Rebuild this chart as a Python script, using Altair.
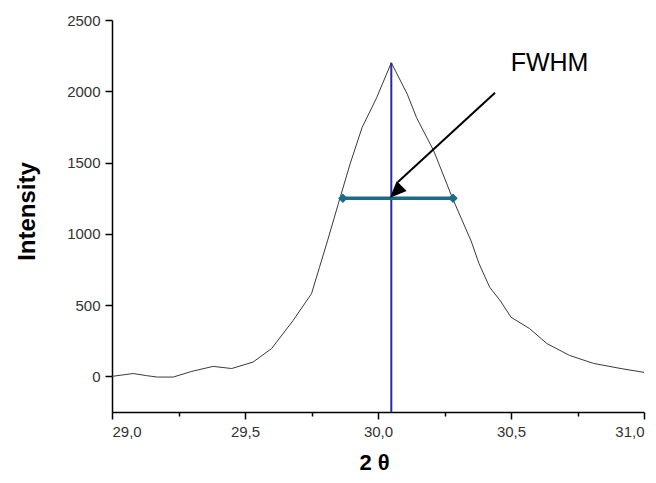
import altair as alt
import pandas as pd

two_theta = [29.0, 29.08, 29.13, 29.17, 29.23, 29.3, 29.38, 29.45, 29.53, 29.6, 29.68,
             29.75, 29.78, 29.81, 29.857, 29.895, 29.94, 29.995, 30.05, 30.11,
             30.145, 30.21, 30.28, 30.35, 30.38, 30.42, 30.46, 30.5, 30.57,
             30.635, 30.72, 30.81, 30.91, 31.0]
intensity = [0, 20, 5, -5, -5, 35, 70, 55, 100, 195, 390,
             580, 765, 950, 1250, 1490, 1745, 1955, 2200, 1980,
             1815, 1580, 1250, 950, 790, 625, 530, 415, 335,
             230, 147, 91, 56, 28]

peak_x = 30.05
peak_y = 2200
fwhm_x = [29.868, 30.282]
fwhm_y = 1250
arrow_start = (30.44, 1990)
arrow_end = (30.045, 1253)
label_pos = (30.645, 2200)
label_text = "FWHM"

x_ticks = [29.0, 29.25, 29.5, 29.75, 30.0, 30.25, 30.5, 30.75, 31.0]
y_ticks = [0, 250, 500, 750, 1000, 1250, 1500, 1750, 2000, 2250, 2500]

xs = alt.Scale(domain=[29.0, 31.0], nice=False, zero=False)
ys = alt.Scale(domain=[-250, 2500], nice=False, zero=False)

curve_df = pd.DataFrame({"x": two_theta, "y": intensity})

xaxis = alt.Axis(
    values=x_ticks, title="2 θ",
    labelExpr="datum.value % 0.5 === 0 ? replace(format(datum.value, '.1f'), '.', ',') : ''",
    tickSize={"condition": {"test": "datum.value % 0.5 === 0", "value": 7}, "value": 4},
    titleX=262, titleY=50, titleAlign="center", titleBaseline="middle",
    titleFontSize=22, titleFontWeight="bold", labelPadding=5,
    grid=False,
)
yaxis = alt.Axis(
    values=y_ticks, title="Intensity",
    labelExpr="datum.value % 500 === 0 ? format(datum.value, 'd') : ''",
    tickSize={"condition": {"test": "datum.value % 500 === 0", "value": 7}, "value": 4},
    titleX=-85, titleY=191, titleAngle=-90, titleAlign="center", titleBaseline="middle",
    titleFontSize=24, titleFontWeight="bold", labelPadding=5,
    grid=False,
)

curve = alt.Chart(curve_df).mark_line(color="#3a3a3a", strokeWidth=1).encode(
    x=alt.X("x:Q", scale=xs, axis=xaxis),
    y=alt.Y("y:Q", scale=ys, axis=yaxis),
)

vline = alt.Chart(pd.DataFrame({"x": [peak_x], "y": [-250], "y2": [peak_y]})).mark_rule(
    color="#2a2aa8", strokeWidth=2
).encode(x="x:Q", y="y:Q", y2="y2:Q")

fwhm_df = pd.DataFrame({"x": fwhm_x, "y": [fwhm_y, fwhm_y]})
fwhm_line = alt.Chart(fwhm_df).mark_line(color="#1b6c84", strokeWidth=3.5).encode(
    x="x:Q", y="y:Q"
)
fwhm_pts = alt.Chart(fwhm_df).mark_point(
    shape="diamond", filled=True, color="#1b6c84", size=90, opacity=1
).encode(x="x:Q", y="y:Q")

arrow_df = pd.DataFrame({
    "x": [arrow_start[0]], "y": [arrow_start[1]],
    "x2": [arrow_end[0] + 0.03], "y2": [arrow_end[1] + 110],
})
arrow_line = alt.Chart(arrow_df).mark_rule(color="black", strokeWidth=2).encode(
    x="x:Q", y="y:Q", x2="x2:Q", y2="y2:Q"
)
head = alt.Chart(pd.DataFrame({"x": [arrow_end[0]], "y": [arrow_end[1]]})).mark_point(
    shape="M0,0 L-0.42,-1 L0.42,-1 Z", filled=True, color="black", size=1100,
    angle=45, opacity=1
).encode(x="x:Q", y="y:Q")

label = alt.Chart(pd.DataFrame({"x": [label_pos[0]], "y": [label_pos[1]], "t": [label_text]})).mark_text(
    font="Liberation Sans", fontSize=25, color="black", align="center", baseline="middle"
).encode(x="x:Q", y="y:Q", text="t:N")

chart = alt.layer(curve, vline, fwhm_line, fwhm_pts, arrow_line, head, label).properties(
    width=532, height=392,
    background="white",
    autosize=alt.AutoSizeParams(type="none"),
    padding={"left": 104, "top": 12, "right": 4, "bottom": 63},
).configure_view(stroke=None).configure_axis(
    labelFont="Liberation Sans", labelFontSize=15, labelColor="#333333",
    titleFont="Liberation Sans", titleColor="black",
    domainColor="black", domainWidth=1.5, tickColor="black", tickWidth=1.5,
)

chart.save("out.html", embed_options={"renderer": "svg", "actions": False})
